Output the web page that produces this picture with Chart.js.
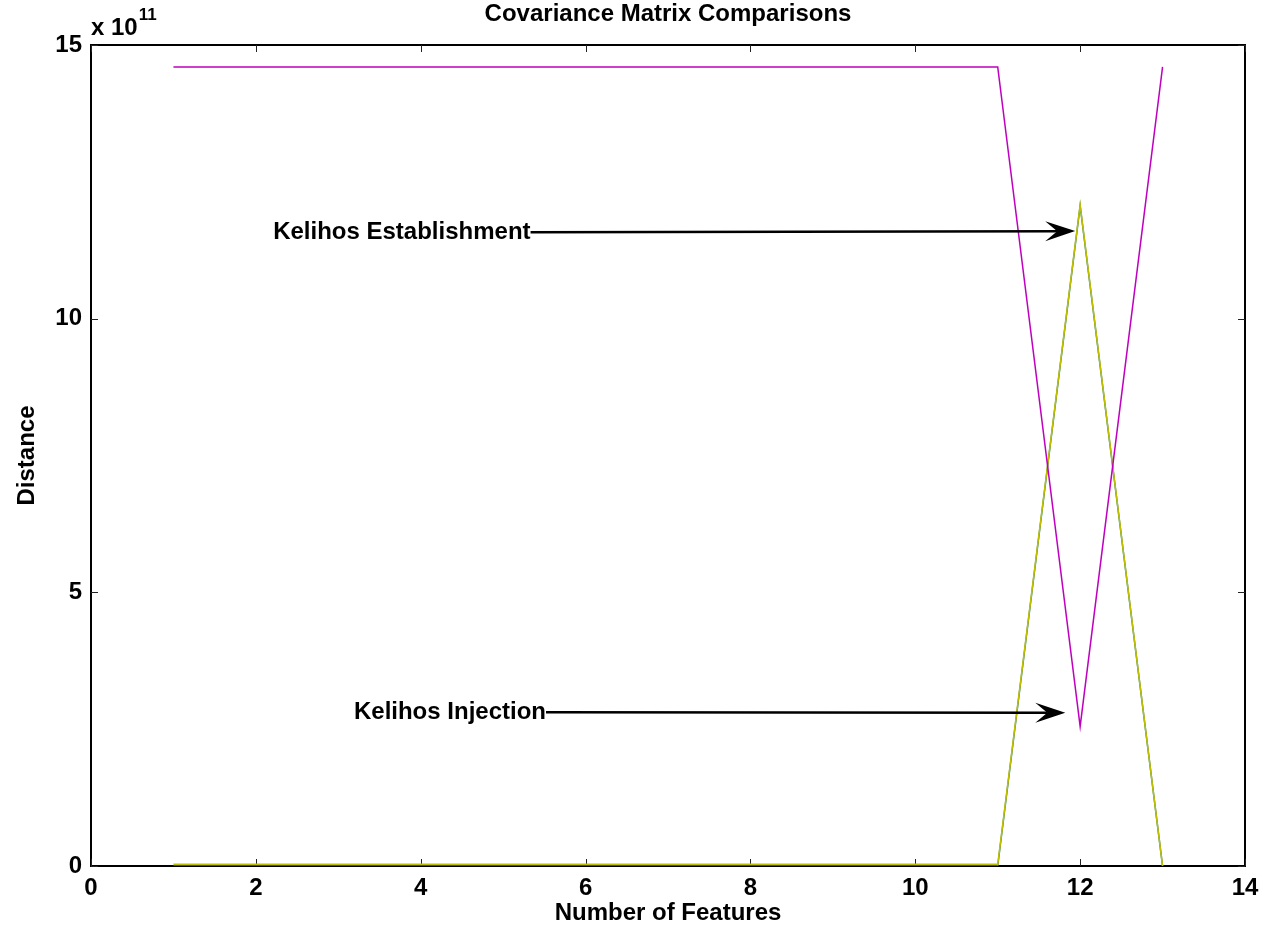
<!DOCTYPE html>
<html>
<head>
<meta charset="utf-8">
<script src="https://cdn.jsdelivr.net/npm/chart.js@4.4.0/dist/chart.umd.min.js"></script>
<style>
  html, body { margin: 0; padding: 0; background: #fff; }
  #wrap { width: 1264px; height: 928px; }
</style>
</head>
<body>
<div id="wrap"><canvas id="c" width="1264" height="928"></canvas></div>
<script>
"use strict";

const FONT = "'Liberation Sans', Arial, sans-serif";
const FS = 24;

// number of features on x, distance on y
const features = [1, 2, 3, 4, 5, 6, 7, 8, 9, 10, 11, 12, 13];
const distMagenta = [1.46e12, 1.46e12, 1.46e12, 1.46e12, 1.46e12, 1.46e12, 1.46e12, 1.46e12, 1.46e12, 1.46e12, 1.46e12, 2.55e11, 1.46e12];
const distYellow = [3e9, 3e9, 3e9, 3e9, 3e9, 3e9, 3e9, 3e9, 3e9, 3e9, 3e9, 1.208e12, 0];
const distTeal = [0, 0, 0, 0, 0, 0, 0, 0, 0, 0, 0, 1.206e12, 0];

const xTicks = [0, 2, 4, 6, 8, 10, 12, 14];
const yTicks = [0, 5e11, 1e12, 1.5e12];

// text annotations with arrows (data coordinates)
const noteText = ["Kelihos Establishment", "Kelihos Injection"];
const noteX = [2.21, 3.19];
const noteY = [1.158e12, 2.81e11];
const tipX = [11.94, 11.82];
const tipY = [1.160e12, 2.80e11];

const pts = (ys) => features.map((x, i) => ({ x, y: ys[i] }));

const frame = {
  id: "frame",
  beforeDatasetsDraw(chart) {
    const { ctx, chartArea: a, scales: { x, y } } = chart;
    ctx.save();
    ctx.strokeStyle = "#000";
    ctx.lineWidth = 2;
    ctx.strokeRect(a.left, a.top, a.right - a.left, a.bottom - a.top);
    // inward ticks on all four sides
    ctx.lineWidth = 1;
    ctx.strokeStyle = "#222";
    ctx.beginPath();
    xTicks.forEach((v) => {
      const px = Math.round(x.getPixelForValue(v)) + 0.5;
      ctx.moveTo(px, a.bottom); ctx.lineTo(px, a.bottom - 7);
      ctx.moveTo(px, a.top); ctx.lineTo(px, a.top + 7);
    });
    yTicks.forEach((v) => {
      const py = Math.round(y.getPixelForValue(v)) + 0.5;
      ctx.moveTo(a.left, py); ctx.lineTo(a.left + 7, py);
      ctx.moveTo(a.right, py); ctx.lineTo(a.right - 7, py);
    });
    ctx.stroke();
    ctx.restore();
  },
  afterDraw(chart) {
    const { ctx, chartArea: a, scales: { x, y } } = chart;
    ctx.save();
    // title and exponent
    ctx.fillStyle = "#000";
    ctx.textBaseline = "alphabetic";
    ctx.textAlign = "center";
    ctx.font = "bold " + FS + "px " + FONT;
    ctx.fillText("Covariance Matrix Comparisons", (a.left + a.right) / 2, 21);
    ctx.textAlign = "left";
    ctx.fillText("x 10", a.left, 35);
    const w = ctx.measureText("x 10").width;
    ctx.font = "bold 17px " + FONT;
    ctx.fillText("11", a.left + w + 1, 20);

    // annotations
    ctx.font = "bold " + FS + "px " + FONT;
    ctx.textBaseline = "middle";
    noteText.forEach((t, i) => {
      const tx = x.getPixelForValue(noteX[i]);
      const ty = y.getPixelForValue(noteY[i]);
      ctx.fillText(t, tx, ty);
      const sx = tx + ctx.measureText(t).width;
      const ex = x.getPixelForValue(tipX[i]);
      const ey = y.getPixelForValue(tipY[i]);
      const ang = Math.atan2(ey - ty, ex - sx);
      const L = 30, H = 10, N = 18;
      const back = (d, o) => [ex - d * Math.cos(ang) - o * Math.sin(ang), ey - d * Math.sin(ang) + o * Math.cos(ang)];
      ctx.strokeStyle = "#000";
      ctx.lineWidth = 2.5;
      ctx.beginPath();
      ctx.moveTo(sx, ty);
      ctx.lineTo(...back(N, 0));
      ctx.stroke();
      ctx.beginPath();
      ctx.moveTo(ex, ey);
      ctx.lineTo(...back(L, H));
      ctx.lineTo(...back(N, 0));
      ctx.lineTo(...back(L, -H));
      ctx.closePath();
      ctx.fillStyle = "#000";
      ctx.fill();
    });
    ctx.restore();
  },
};

new Chart(document.getElementById("c"), {
  type: "line",
  data: {
    datasets: [
      { data: pts(distMagenta), borderColor: "#bf00bf", order: 1 },
      { data: pts(distYellow), borderColor: "#bfbf00", order: 2 },
      { data: pts(distTeal), borderColor: "#2a7f7a", order: 3 },
    ],
  },
  options: {
    responsive: false,
    animation: false,
    parsing: false,
    elements: {
      line: { borderWidth: 1.5, tension: 0, fill: false },
      point: { radius: 0 },
    },
    layout: { padding: { top: 45, right: 19, left: 0, bottom: 0 } },
    plugins: { legend: { display: false }, tooltip: { enabled: false } },
    scales: {
      x: {
        type: "linear", min: 0, max: 14,
        afterBuildTicks: (s) => { s.ticks = xTicks.map((v) => ({ value: v })); },
        afterFit: (s) => { s.height = 62; s.paddingLeft = 0; s.paddingRight = 0; },
        grid: { display: false, drawTicks: false },
        border: { display: false },
        ticks: { color: "#000", padding: 8, maxRotation: 0, font: { family: FONT, size: FS, weight: "bold" } },
        title: { display: true, text: "Number of Features", color: "#000", padding: 0, font: { family: FONT, size: FS, weight: "bold" } },
      },
      y: {
        type: "linear", min: 0, max: 1.5e12,
        afterBuildTicks: (s) => { s.ticks = yTicks.map((v) => ({ value: v })); },
        afterFit: (s) => { s.width = 91; s.paddingTop = 0; s.paddingBottom = 0; },
        grid: { display: false, drawTicks: false },
        border: { display: false },
        ticks: { color: "#000", padding: 9, font: { family: FONT, size: FS, weight: "bold" }, callback: (v) => String(v / 1e11) },
        title: { display: true, text: "Distance", color: "#000", padding: { top: 13 }, font: { family: FONT, size: FS, weight: "bold" } },
      },
    },
  },
  plugins: [frame],
});
</script>
</body>
</html>
